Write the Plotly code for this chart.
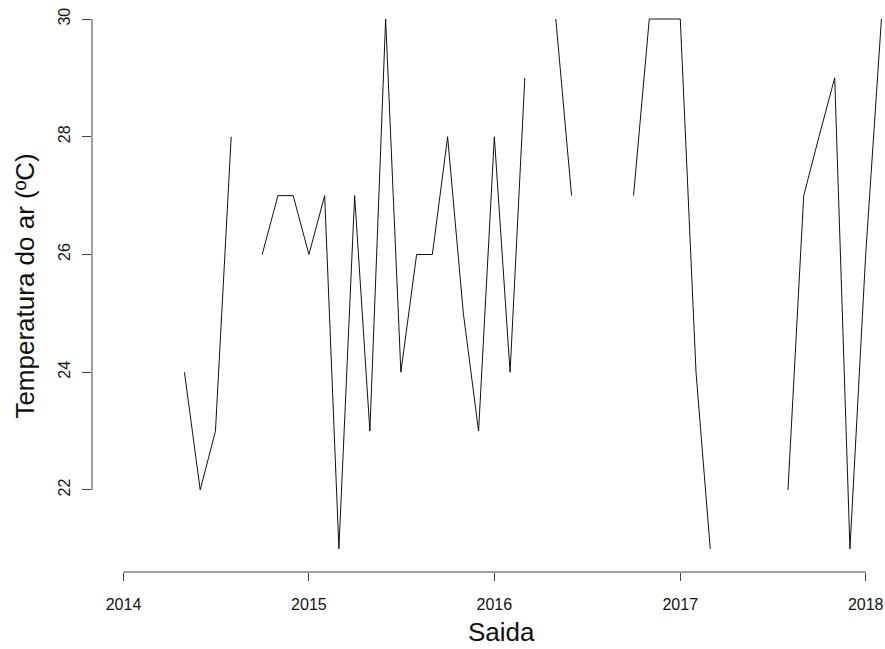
import plotly.graph_objects as go

# Monthly air temperature readings (None = no sample that month)
months = [
    "2014-05-01", "2014-06-01", "2014-07-01", "2014-08-01", "2014-09-01", "2014-10-01",
    "2014-11-01", "2014-12-01",
    "2015-01-01", "2015-02-01", "2015-03-01", "2015-04-01", "2015-05-01", "2015-06-01",
    "2015-07-01", "2015-08-01", "2015-09-01", "2015-10-01", "2015-11-01", "2015-12-01",
    "2016-01-01", "2016-02-01", "2016-03-01", "2016-04-01", "2016-05-01", "2016-06-01",
    "2016-07-01", "2016-08-01", "2016-09-01", "2016-10-01", "2016-11-01", "2016-12-01",
    "2017-01-01", "2017-02-01", "2017-03-01", "2017-04-01", "2017-05-01", "2017-06-01",
    "2017-07-01", "2017-08-01", "2017-09-01", "2017-10-01", "2017-11-01", "2017-12-01",
    "2018-01-01", "2018-02-01",
]
temperature = [
    24, 22, 23, 28, None, 26, 27, 27,
    26, 27, 21, 27, 23, 30, 24, 26, 26, 28, 25, 23,
    28, 24, 29, None, 30, 27, None, None, None, 27, 30, 30,
    30, 24, 21, None, None, None, None, 22, 27, 28, 29, 21,
    26, 30,
]

x_tick_vals = ["2014-01-01", "2015-01-01", "2016-01-01", "2017-01-01", "2018-01-01"]
x_tick_text = ["2014", "2015", "2016", "2017", "2018"]
y_tick_vals = [22, 24, 26, 28, 30]
y_tick_text = ["22", "24", "26", "28", "30"]

x_title = "Saida"
y_title = "Temperatura do ar (ºC)"

FONT = "Liberation Sans, Arial, sans-serif"
AXIS_COLOR = "#444444"

fig = go.Figure()
fig.add_trace(go.Scatter(
    x=months, y=temperature, mode="lines", connectgaps=False,
    line=dict(color="#111111", width=1), hoverinfo="skip", showlegend=False,
))

# R-style axis lines spanning only the first to last tick
fig.add_shape(type="line", xref="x", yref="paper",
              x0=x_tick_vals[0], x1=x_tick_vals[-1], y0=0, y1=0,
              line=dict(color=AXIS_COLOR, width=1))
fig.add_shape(type="line", xref="paper", yref="y",
              x0=0, x1=0, y0=y_tick_vals[0], y1=y_tick_vals[-1],
              line=dict(color=AXIS_COLOR, width=1))

fig.add_annotation(text=x_title, xref="paper", yref="paper", x=0.516, y=-0.1346,
                   xanchor="center", yanchor="bottom", showarrow=False,
                   font=dict(family=FONT, size=26, color="#111111"))
fig.add_annotation(text=y_title, xref="paper", yref="paper", x=-0.085, y=0.5,
                   xanchor="center", yanchor="middle", showarrow=False, textangle=-90,
                   font=dict(family=FONT, size=26, color="#111111"))

fig.update_layout(
    width=885, height=649,
    margin=dict(l=92, r=0, t=0, b=77),
    paper_bgcolor="white", plot_bgcolor="white",
    xaxis=dict(
        type="date", range=["2013-10-31", "2018-02-08"],
        tickvals=x_tick_vals, ticktext=x_tick_text,
        ticks="outside", ticklen=8, tickwidth=1, tickcolor=AXIS_COLOR,
        showline=False, showgrid=False, zeroline=False,
        tickfont=dict(family=FONT, size=16, color="#111111"),
        ticklabelstandoff=10,
    ),
    yaxis=dict(
        range=[20.607, 30.323],
        tickvals=y_tick_vals, ticktext=y_tick_text, tickangle=-90,
        ticks="outside", ticklen=9, tickwidth=1, tickcolor=AXIS_COLOR,
        showline=False, showgrid=False, zeroline=False,
        tickfont=dict(family=FONT, size=16, color="#111111"),
        ticklabelstandoff=6,
    ),
)

fig.write_html("out.html")
